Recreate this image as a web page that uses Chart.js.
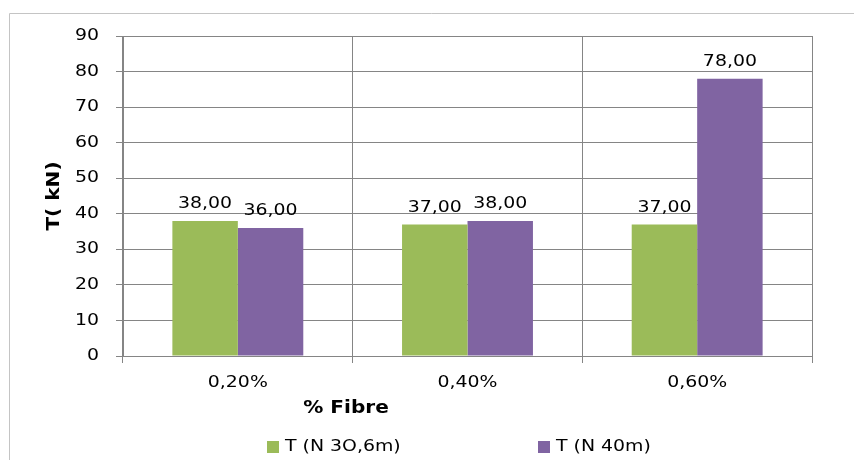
<!DOCTYPE html>
<html>
<head>
<meta charset="utf-8">
<script src="https://cdn.jsdelivr.net/npm/chart.js@4"></script>
<style>
  html, body { margin: 0; padding: 0; background: #fff; }
  #wrap { width: 854px; height: 464px; }
</style>
</head>
<body>
<div id="wrap"><canvas id="chart" width="854" height="464"></canvas></div>
<script>
// donnees
const categories = ['0,20%', '0,40%', '0,60%'];
const serieA = [38, 37, 37];
const serieB = [36, 38, 78];
const nomsSeries = ['T (N 3O,6m)', 'T (N 40m)'];
const couleurs = ['#9bbb59', '#8064a2'];
const titreY = 'T( kN)';
const titreX = '% Fibre';

const police = 'DejaVu Sans, Verdana, sans-serif';
const gris = '#858585';
const etirement = 1.18;

function fmt(v) {
  return v.toFixed(2).replace('.', ',');
}

// texte un peu elargi comme sur l'original
function texteLarge(ctx, txt, x, y) {
  ctx.save();
  ctx.translate(x, y);
  ctx.scale(etirement, 1);
  ctx.fillText(txt, 0, 0);
  ctx.restore();
}

// cadre, titres, etiquettes et legende
const decor = {
  id: 'decor',
  beforeDraw(chart) {
    const ctx = chart.ctx;
    ctx.save();
    ctx.strokeStyle = '#c4c4c4';
    ctx.lineWidth = 1;
    ctx.beginPath();
    ctx.moveTo(9.5, 460);
    ctx.lineTo(9.5, 13.5);
    ctx.lineTo(854, 13.5);
    ctx.stroke();
    ctx.restore();
  },
  afterDatasetsDraw(chart) {
    const ctx = chart.ctx;
    const area = chart.chartArea;
    const sx = chart.scales.x;
    const sy = chart.scales.y;
    ctx.save();
    ctx.fillStyle = '#000';
    ctx.font = '16px ' + police;
    ctx.textAlign = 'center';
    ctx.textBaseline = 'bottom';
    chart.data.datasets.forEach((ds, i) => {
      chart.getDatasetMeta(i).data.forEach((bar, j) => {
        texteLarge(ctx, fmt(ds.data[j]), bar.x, bar.y - 9);
      });
    });

    // graduations
    ctx.textBaseline = 'middle';
    sx.ticks.forEach((t, i) => {
      texteLarge(ctx, sx.getLabelForValue(t.value), sx.getPixelForTick(i), 383);
    });
    ctx.textAlign = 'right';
    sy.ticks.forEach((t, i) => {
      texteLarge(ctx, String(t.value), 99, sy.getPixelForTick(i));
    });
    ctx.textAlign = 'center';

    // titre axe Y
    ctx.font = 'bold 17px ' + police;
    ctx.save();
    ctx.translate(55, (area.top + area.bottom) / 2);
    ctx.rotate(-Math.PI / 2);
    ctx.scale(etirement, 1);
    ctx.fillText(titreY, 0, 0);
    ctx.restore();

    // titre axe X
    texteLarge(ctx, titreX, 346, 409);

    // legende
    ctx.font = '16px ' + police;
    ctx.textAlign = 'left';
    const posLeg = [267, 538];
    nomsSeries.forEach((nom, i) => {
      ctx.fillStyle = couleurs[i];
      ctx.fillRect(posLeg[i], 441, 12, 12);
      ctx.fillStyle = '#000';
      texteLarge(ctx, nom, posLeg[i] + 18, 447);
    });
    ctx.restore();
  }
};

new Chart(document.getElementById('chart'), {
  type: 'bar',
  data: {
    labels: categories,
    datasets: [
      { label: nomsSeries[0], data: serieA, backgroundColor: couleurs[0], borderWidth: 0 },
      { label: nomsSeries[1], data: serieB, backgroundColor: couleurs[1], borderWidth: 0 }
    ]
  },
  options: {
    responsive: false,
    animation: false,
    layout: { padding: { left: 0, top: 36, right: 42, bottom: 0 } },
    datasets: {
      bar: { barPercentage: 1, categoryPercentage: 0.57 }
    },
    plugins: {
      legend: { display: false },
      tooltip: { enabled: false }
    },
    scales: {
      x: {
        grid: { color: gris, lineWidth: 1, tickLength: 7, offset: true },
        border: { color: gris, width: 1 },
        ticks: { display: false },
        afterFit(scale) { scale.height = 108; }
      },
      y: {
        min: 0,
        max: 90,
        grid: { color: gris, lineWidth: 1, tickLength: 7 },
        border: { color: gris, width: 1 },
        ticks: { stepSize: 10, display: false },
        afterFit(scale) { scale.width = 123; }
      }
    }
  },
  plugins: [decor]
});
</script>
</body>
</html>
